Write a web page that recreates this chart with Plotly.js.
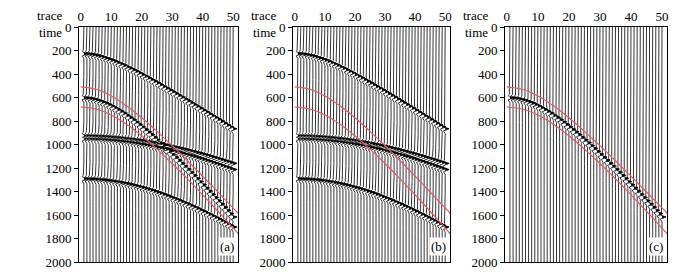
<!DOCTYPE html>
<html>
<head>
<meta charset="utf-8">
<script src="https://cdn.plot.ly/plotly-3.0.1.min.js"></script>
<style>
body{margin:0;background:#fff}
#plot text{font-family:"Liberation Serif","Times New Roman",serif !important}
</style>
</head>
<body>
<div id="plot" style="width:684px;height:275px"></div>
<script>
// trace numbers
const traceNo = [1,2,3,4,5,6,7,8,9,10,11,12,13,14,15,16,17,18,19,20,21,22,23,24,25,
  26,27,28,29,30,31,32,33,34,35,36,37,38,39,40,41,42,43,44,45,46,47,48,49,50];

// arrival times (ms) of each event on every trace
const ev1 = [226,227,231,235,240,246,254,262,271,280,290,301,313,324,337,349,362,375,389,403,
  417,431,445,460,474,489,504,519,534,549,564,580,595,611,626,642,658,673,689,705,
  721,737,753,768,784,800,817,833,849,865];
const ev2 = [601,603,607,612,618,626,636,646,658,671,685,700,716,732,750,768,787,807,828,849,
  870,892,914,937,960,984,1008,1032,1057,1082,1107,1132,1158,1183,1209,1235,1262,1288,1315,1342,
  1369,1396,1423,1450,1477,1505,1532,1560,1588,1616];
const ev3 = [925,925,926,927,928,929,930,932,934,936,938,940,943,946,949,952,955,959,962,966,
  971,975,979,984,989,994,999,1005,1010,1016,1022,1028,1034,1040,1047,1053,1060,1067,1074,1081,
  1089,1096,1104,1111,1119,1127,1135,1143,1152,1160];
const ev4 = [950,950,951,952,953,954,956,958,960,962,964,967,970,973,976,980,984,988,992,997,
  1001,1006,1011,1016,1022,1027,1033,1039,1046,1052,1058,1065,1072,1079,1086,1094,1101,1109,1117,1125,
  1133,1141,1150,1158,1167,1176,1185,1194,1203,1212];
const ev5 = [1290,1291,1292,1293,1295,1297,1299,1302,1305,1309,1313,1317,1322,1327,1332,1338,1344,1350,1357,1364,
  1372,1379,1387,1396,1404,1413,1422,1432,1442,1452,1462,1473,1484,1495,1506,1518,1529,1541,1554,1566,
  1579,1592,1605,1618,1632,1645,1659,1673,1687,1702];

// red window boundaries
const redX = [0,5,10,15,20,25,30,35,40,45,50,52];
const redTop = [510,530,587,671,773,888,1010,1138,1269,1404,1540,1595];
const redBottom = [680,698,749,827,926,1039,1162,1292,1428,1568,1711,1769];

const panelNames = ['(a)', '(b)', '(c)'];
const panelEvents = [[ev1, ev2, ev3, ev4, ev5], [ev1, ev3, ev4, ev5], [ev2]];
const yTicks = [0,200,400,600,800,1000,1200,1400,1600,1800,2000];
const xTicks = [0,10,20,30,40,50];

const domains = [[0.1155, 0.348], [0.4284, 0.6579], [0.7383, 0.9751]];
const font = {family: 'Liberation Serif', size: 13, color: '#000'};

const freq = 21, gain = 1.3, dt = 2;
function ricker(tau) {
  const a = Math.pow(Math.PI * freq * tau / 1000, 2);
  return (1 - 2 * a) * Math.exp(-a);
}

function wiggle(events) {
  const lx = [], ly = [], fx = [], fy = [];
  traceNo.forEach((n, i) => {
    let open = false;
    for (let t = 0; t <= 2000; t += dt) {
      let s = 0;
      events.forEach(ev => { s += ricker(t - ev[i]); });
      const x = n + gain * s;
      lx.push(x); ly.push(t);
      if (s > 0) {
        if (!open) { fx.push(n); fy.push(t); open = true; }
        fx.push(x); fy.push(t);
      } else if (open) {
        fx.push(n); fy.push(t); fx.push(null); fy.push(null); open = false;
      }
    }
    if (open) { fx.push(n); fy.push(2000); fx.push(null); fy.push(null); }
    lx.push(null); ly.push(null);
  });
  return {lx, ly, fx, fy};
}

const data = [];
const layout = {
  width: 684, height: 275,
  margin: {l: 0, r: 0, t: 27, b: 13},
  paper_bgcolor: '#fff', plot_bgcolor: '#fff',
  showlegend: false,
  font: font,
  annotations: []
};

panelEvents.forEach((events, p) => {
  const k = p === 0 ? '' : String(p + 1);
  const w = wiggle(events);
  data.push({x: w.fx, y: w.fy, xaxis: 'x' + k, yaxis: 'y' + k, type: 'scatter', mode: 'lines',
    fill: 'toself', fillcolor: '#000', line: {width: 0, color: 'rgba(0,0,0,0)'}, hoverinfo: 'skip'});
  data.push({x: w.lx, y: w.ly, xaxis: 'x' + k, yaxis: 'y' + k, type: 'scatter', mode: 'lines',
    line: {width: 0.8, color: '#000'}, hoverinfo: 'skip'});
  [redTop, redBottom].forEach(r => {
    data.push({x: redX, y: r, xaxis: 'x' + k, yaxis: 'y' + k, type: 'scatter', mode: 'lines',
      line: {width: 1.2, color: '#e65a66', shape: 'spline'}, hoverinfo: 'skip'});
  });

  layout['xaxis' + k] = {
    domain: domains[p], anchor: 'y' + k, side: 'top', range: [-0.6, 51.6],
    tickvals: xTicks, ticks: '', showline: true, mirror: true, linecolor: '#000', linewidth: 1,
    showgrid: false, zeroline: false, tickfont: font
  };
  layout['yaxis' + k] = {
    domain: [0, 1], anchor: 'x' + k, range: [2000, 0], tickvals: yTicks,
    ticks: 'outside', ticklen: 4, tickcolor: '#000', showline: true, mirror: true,
    linecolor: '#000', linewidth: 1, showgrid: false, zeroline: false, tickfont: font
  };

  const left = domains[p][0] * 684 - 15;
  layout.annotations.push(
    {text: 'trace', xref: 'paper', yref: 'paper', x: left / 684, y: 1.048, xanchor: 'right', yanchor: 'middle', showarrow: false, font: font},
    {text: 'time', xref: 'paper', yref: 'paper', x: left / 684, y: 0.975, xanchor: 'right', yanchor: 'middle', showarrow: false, font: font},
    {text: panelNames[p], xref: 'x' + k + ' domain', yref: 'y' + k + ' domain', x: 0.985, y: 0.025,
      xanchor: 'right', yanchor: 'bottom', showarrow: false, bgcolor: '#fff', borderpad: 1, font: font}
  );
});

Plotly.newPlot('plot', data, layout, {displayModeBar: false, staticPlot: true});
</script>
</body>
</html>
